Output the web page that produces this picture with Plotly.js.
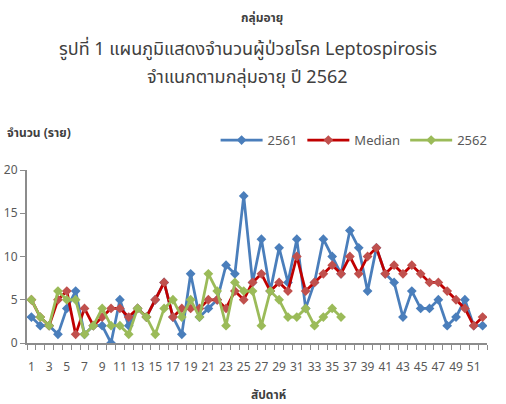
<!DOCTYPE html>
<html><head><meta charset="utf-8">
<script src="https://cdn.plot.ly/plotly-3.0.1.min.js"></script>
<style>html,body{margin:0;padding:0;background:#fff}#c{width:506px;height:404px}</style>
</head><body><div id="c"></div>
<script>
const weeks = Array.from({length: 52}, (_, i) => i + 1);
const y2561 = [3,2,2,1,4,6,1,2,2,0,5,2,4,3,5,7,3,1,8,3,4,5,9,8,17,7,12,6,11,7,12,4,7,12,10,8,13,11,6,11,8,7,3,6,4,4,5,2,3,5,2,2];
const median = [5,3,2,5,6,1,4,2,3,4,4,3,4,3,5,7,3,4,4,4,5,5,4,6,5,7,8,6,7,6,10,6,7,8,9,8,10,8,10,11,8,9,8,9,8,7,7,6,5,4,2,3];
const y2562 = [5,3,2,6,5,5,1,2,4,2,2,1,4,3,1,4,5,3,5,3,8,6,2,7,6,6,2,6,5,3,3,4,2,3,4,3];
const tickVals = [1,3,5,7,9,11,13,15,17,19,21,23,25,27,29,31,33,35,37,39,41,43,45,47,49,51];
const tickText = tickVals.map(String);

const FONT = "Tahoma, 'Leelawadee UI', 'Noto Sans Thai', 'Noto Sans', sans-serif";

const mk = (name, y, lineColor, markerColor) => ({
  type: 'scatter', mode: 'lines+markers', name: name,
  x: weeks.slice(0, y.length), y: y,
  line: {color: lineColor, width: 2.75},
  marker: {symbol: 'diamond', size: 7.5, color: markerColor}
});

const data = [
  mk('2561', y2561, '#4A7EBB', '#4A7EBB'),
  mk('Median', median, '#C00000', '#C0504D'),
  mk('2562', y2562, '#9BBB59', '#9BBB59')
];

const layout = {
  width: 506, height: 404,
  margin: {l: 27, r: 19, t: 170, b: 61, pad: 0},
  paper_bgcolor: '#fff', plot_bgcolor: '#fff',
  font: {family: FONT, size: 12, color: '#595959'},
  showlegend: true,
  legend: {orientation: 'h', x: 0.41, xanchor: 'left', y: 1.173, yanchor: 'middle',
           font: {size: 13, color: '#595959'}, itemwidth: 42,
           tracegroupgap: 0, bgcolor: 'rgba(0,0,0,0)'},
  xaxis: {
    range: [0.5, 52.5], tickmode: 'array', tickvals: tickVals, ticktext: tickText,
    ticks: '', showgrid: false, zeroline: false, ticklabelstandoff: 12,
    showline: true, linecolor: '#8C8C8C', linewidth: 2,
    tickfont: {size: 12, color: '#595959'},
    minor: {tick0: 0.5, dtick: 1, ticks: 'outside', ticklen: 5, tickwidth: 1, tickcolor: '#8C8C8C', showgrid: false},
    fixedrange: true
  },
  yaxis: {
    range: [0, 20], tickmode: 'array', tickvals: [0,5,10,15,20],
    ticks: 'outside', ticklen: 5, tickwidth: 1, tickcolor: '#8C8C8C',
    showgrid: false, zeroline: false,
    showline: true, linecolor: '#8C8C8C', linewidth: 2,
    tickfont: {size: 12, color: '#595959'}, fixedrange: true
  },
  annotations: [
    {text: '<b>กลุ่มอายุ</b>', xref: 'paper', yref: 'paper', x: 0.511, y: 1.879, showarrow: false,
     xanchor: 'center', yanchor: 'middle', font: {size: 12, color: '#404040'}},
    {text: 'รูปที่ 1 แผนภูมิแสดงจำนวนผู้ป่วยโรค Leptospirosis', xref: 'paper', yref: 'paper', x: 0.480, y: 1.694, showarrow: false,
     xanchor: 'center', yanchor: 'middle', font: {size: 18, color: '#404040'}},
    {text: 'จำแนกตามกลุ่มอายุ ปี 2562', xref: 'paper', yref: 'paper', x: 0.480, y: 1.532, showarrow: false,
     xanchor: 'center', yanchor: 'middle', font: {size: 18, color: '#404040'}},
    {text: '<b>จำนวน (ราย)</b>', xref: 'paper', yref: 'paper', x: -0.048, y: 1.214, showarrow: false,
     xanchor: 'left', yanchor: 'middle', font: {size: 12, color: '#404040'}},
    {text: '<b>สัปดาห์</b>', xref: 'paper', yref: 'paper', x: 0.524, y: -0.30, showarrow: false,
     xanchor: 'center', yanchor: 'middle', font: {size: 12, color: '#404040'}}
  ]
};

Plotly.newPlot('c', data, layout, {displayModeBar: false, staticPlot: true});
</script></body></html>
